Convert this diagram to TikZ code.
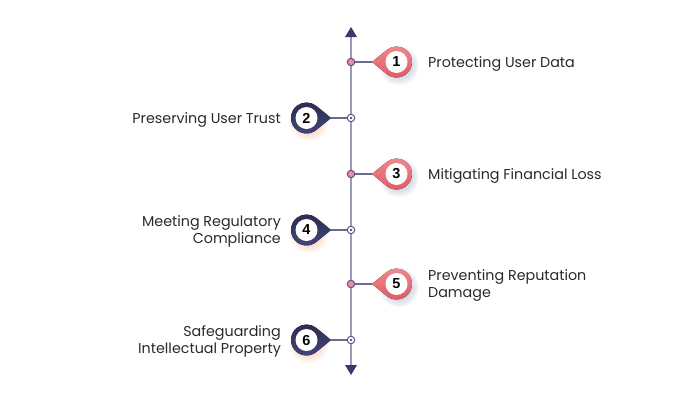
\documentclass[tikz,border=0pt]{standalone}
\usepackage{fontspec}
\setmainfont{Poppins}
\newfontfamily\numfont{Liberation Sans}
\usetikzlibrary{arrows.meta,calc}
\definecolor{axisc}{HTML}{9C98BE}
\definecolor{arrowc}{HTML}{3E3670}
\definecolor{linkc}{HTML}{6E6894}
\definecolor{redpin}{HTML}{E05862}
\definecolor{redpinL}{HTML}{F08A8E}
\definecolor{navypin}{HTML}{2A2C54}
\definecolor{navypinL}{HTML}{44477A}
\definecolor{dotpink}{HTML}{F28C94}
\definecolor{dotline}{HTML}{5B5190}
\definecolor{txt}{HTML}{2A2A2A}
\definecolor{shblue}{HTML}{7A82B0}
\definecolor{shorange}{HTML}{F09A68}
\tikzset{
  lbl/.style={font=\fontsize{14.3}{17}\selectfont, text=txt, inner sep=0pt},
  lblR/.style={lbl, anchor=west, align=left},
  lblL/.style={lbl, anchor=east, align=right},
  pinnum/.style={circle, fill=white, minimum size=22pt, inner sep=0pt, font=\numfont\bfseries\fontsize{14.5}{14.5}\selectfont},
  link/.style={draw=linkc, line width=1.4pt},
  dotodd/.style={circle, draw=dotline, fill=dotpink, line width=1pt, minimum size=7.5pt, inner sep=0pt},
  doteven/.style={circle, draw=dotline, fill=white, line width=1pt, minimum size=7.5pt, inner sep=0pt},
}
% #1 name, #2 x, #3 y, #4 direction (-1 left tip, +1 right tip), #5 colour, #6 light colour, #7 shadow colour, #8 number
\newcommand{\mypin}[8]{%
  \foreach \k in {1,...,7}{
    \fill[#7, opacity=0.045] ($(#2,#3)+(2.5,3.5)$) circle ({13+\k*1.0});
  }
  \fill[left color=#6, right color=#5, shading angle=#4*90+90]
    ($(#2,#3)+(#4*24.5,0)$) -- ($(#2,#3)+({#4*15.5*0.633},{15.5*0.774})$)
    arc[start angle={90-#4*39.3}, end angle={90-#4*39.3+#4*258.6}, radius=15.5]
    -- cycle;
  \coordinate (#1t) at ($(#2,#3)+(#4*24.5,0)$);
  \node[pinnum] (#1) at (#2,#3) {#8};
}
\begin{document}
\begin{tikzpicture}[x=1pt,y=-1pt]
\useasboundingbox (0,0) rectangle (700,400);
% axis
\coordinate (top) at (351,27);
\coordinate (bot) at (351,375);
\draw[axisc, line width=1.5pt] (351,34) -- (351,368);
\fill[arrowc] (top) -- (345,37) -- (357,37) -- cycle;
\fill[arrowc] (bot) -- (345,365) -- (357,365) -- cycle;
% dots
\node[dotodd]  (d1) at (351,62) {};
\node[doteven] (d2) at (351,118) {};
\node[dotodd]  (d3) at (351,174) {};
\node[doteven] (d4) at (351,230) {};
\node[dotodd]  (d5) at (351,284) {};
\node[doteven] (d6) at (351,340) {};
\foreach \n in {2,4,6}{\fill[dotline] (d\n) circle (1.4);}
% pins
\mypin{p1}{396.5}{62}{-1}{redpin}{redpinL}{shblue}{1}
\mypin{p2}{306.5}{118}{1}{navypin}{navypinL}{shorange}{2}
\mypin{p3}{396.5}{174}{-1}{redpin}{redpinL}{shblue}{3}
\mypin{p4}{306.5}{230}{1}{navypin}{navypinL}{shorange}{4}
\mypin{p5}{396.5}{284}{-1}{redpin}{redpinL}{shblue}{5}
\mypin{p6}{306.5}{340}{1}{navypin}{navypinL}{shorange}{6}
% links
\foreach \n in {1,...,6}{\draw[link] (d\n) -- (p\n t);}
% labels
\node[lblR] (t1) at (428,63.5) {Protecting User Data};
\node[lblL] (t2) at (281,119.5) {Preserving User Trust};
\node[lblR] (t3) at (428,175.5) {Mitigating Financial Loss};
\node[lblL] (t4) at (281,231.5) {Meeting Regulatory\\Compliance};
\node[lblR] (t5) at (428,285.5) {Preventing Reputation\\Damage};
\node[lblL] (t6) at (281,341.5) {Safeguarding\\Intellectual Property};
\end{tikzpicture}
\end{document}
